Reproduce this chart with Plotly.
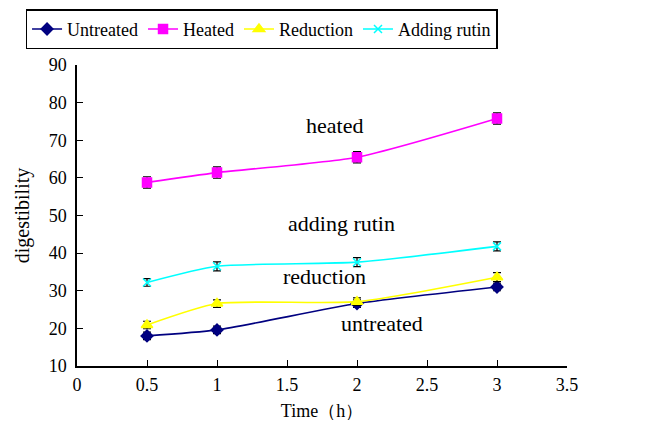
import plotly.graph_objects as go

time = [0.5, 1, 2, 3]
untreated = [18.0, 19.6, 26.6, 31.0]
heated = [58.8, 61.4, 65.5, 75.8]
reduction = [20.9, 26.6, 27.1, 33.6]
adding_rutin = [32.2, 36.5, 37.6, 41.8]
err_untreated = [1.0, 1.0, 1.0, 1.0]
err_heated = [1.5, 1.5, 1.5, 1.5]
err_reduction = [1.0, 1.0, 1.0, 1.2]
err_rutin = [1.0, 1.2, 1.2, 1.2]

series = [
    ("Untreated", untreated, err_untreated, "#000080", "diamond", 9),
    ("Heated", heated, err_heated, "#FF00FF", "square", 9),
    ("Reduction", reduction, err_reduction, "#FFFF00", "triangle-up", 10),
    ("Adding rutin", adding_rutin, err_rutin, "#00FFFF", "x-thin-open", 8),
]

font = "Liberation Serif"
fig = go.Figure()
for name, vals, err, col, sym, sz in series:
    fig.add_trace(go.Scatter(
        x=time, y=vals, name=name, mode="lines+markers",
        line=dict(color=col, width=1.6, shape="spline", smoothing=0.6),
        marker=dict(color=col, symbol=sym, size=sz, line=dict(color=col, width=1.5)),
        error_y=dict(type="data", array=err, color="black", thickness=1.2, width=4),
    ))

labels = [("heated", 1.84, 73.8), ("adding rutin", 1.89, 47.8),
          ("reduction", 1.77, 33.7), ("untreated", 2.18, 21.2)]
for t, x, y in labels:
    fig.add_annotation(x=x, y=y, text=t, showarrow=False,
                       font=dict(family=font, size=22, color="black"))

fig.update_layout(
    width=667, height=423,
    margin=dict(l=69, r=108, t=57, b=65, autoexpand=False),
    paper_bgcolor="white", plot_bgcolor="white",
    font=dict(family=font, size=18, color="black"),
    showlegend=True,
    legend=dict(orientation="h", x=-0.105, y=1.185, xanchor="left", yanchor="top",
                bordercolor="black", borderwidth=1.5, bgcolor="white",
                font=dict(family=font, size=18), itemwidth=30,
                tracegroupgap=0),
    xaxis=dict(range=[0, 3.5], dtick=0.5, tick0=0, showgrid=False, zeroline=False,
               showline=True, linecolor="black", linewidth=1.5,
               ticks="inside", ticklen=6, tickcolor="black",
               tickfont=dict(family=font, size=18), ticklabelstandoff=2,
               title=dict(text="Time（h）", font=dict(family=font, size=18), standoff=10)),
    yaxis=dict(range=[10, 90], dtick=10, showgrid=False, zeroline=False,
               showline=True, linecolor="black", linewidth=1.5,
               ticks="inside", ticklen=6, tickcolor="black",
               tickfont=dict(family=font, size=18), ticklabelstandoff=5,
               title=dict(text="digestibility", font=dict(family=font, size=20), standoff=14)),
)
fig.write_html("out.html")
